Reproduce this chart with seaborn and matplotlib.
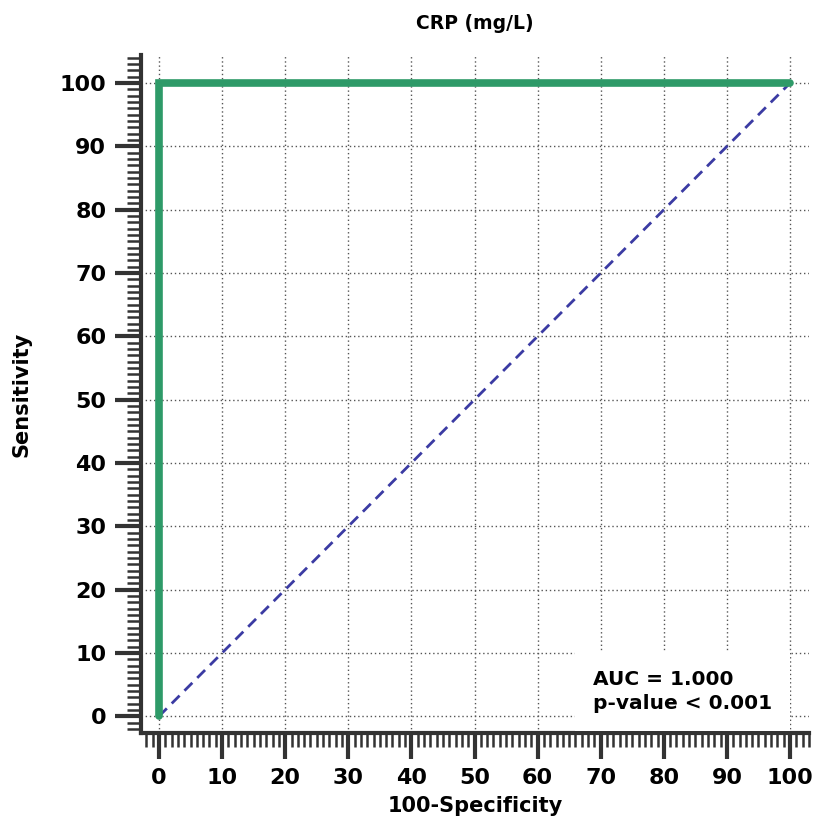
import numpy as np
import pandas as pd
import matplotlib.pyplot as plt
import seaborn as sns
from matplotlib.ticker import MultipleLocator

# ROC curve points (100-Specificity, Sensitivity)
fpr = [0, 0, 100]
tpr = [0, 100, 100]
ref_x = [0, 100]
ref_y = [0, 100]
auc_text = "AUC = 1.000\np-value < 0.001"

sns.set_style("white")
plt.rcParams['font.family'] = ['DejaVu Sans']
plt.rcParams['font.weight'] = 'bold'
plt.rcParams['text.color'] = 'black'
plt.rcParams['axes.labelcolor'] = 'black'
plt.rcParams['xtick.color'] = 'black'
plt.rcParams['ytick.color'] = 'black'

fig = plt.figure(figsize=(8.15, 8.24), dpi=100)
ax = fig.add_axes([0.173, 0.11, 0.8196, 0.823])

roc = pd.DataFrame({"fpr": fpr, "tpr": tpr})
ref = pd.DataFrame({"x": ref_x, "y": ref_y})

sns.lineplot(data=ref, x="x", y="y", ax=ax, color="#3b3ba3", lw=2,
             linestyle=(0, (4, 2.5)), sort=False, estimator=None, zorder=3)
sns.lineplot(data=roc, x="fpr", y="tpr", ax=ax, color="#2e9a68", lw=5.5,
             sort=False, estimator=None, zorder=4, solid_joinstyle='miter')

ax.set_xlim(-2.85, 103)
ax.set_ylim(-2.7, 104.4)

ax.xaxis.set_major_locator(MultipleLocator(10))
ax.xaxis.set_minor_locator(MultipleLocator(1))
ax.yaxis.set_major_locator(MultipleLocator(10))
ax.yaxis.set_minor_locator(MultipleLocator(1))

ax.grid(True, which='major', linestyle=(0, (1, 2)), color='#555555', lw=1)

for s in ['top', 'right']:
    ax.spines[s].set_visible(False)
for s in ['left', 'bottom']:
    ax.spines[s].set_linewidth(3)
    ax.spines[s].set_color('#333333')

ax.tick_params(which='major', direction='out', length=19, width=3, color='#333333',
               labelsize=16, pad=6, labelcolor='black')
ax.tick_params(which='minor', direction='out', length=10, width=1.8, color='#333333')
ax.tick_params(axis='both', which='both', left=True, bottom=True)
for lab in ax.get_xticklabels() + ax.get_yticklabels():
    lab.set_fontweight('bold')

ax.set_xlabel("100-Specificity", fontsize=15, fontweight='bold', labelpad=6)
ax.set_ylabel("Sensitivity", fontsize=15, fontweight='bold', labelpad=20)
ax.set_title("CRP (mg/L)", fontsize=13.5, fontweight='bold', pad=19)

ax.text(68.8, 3.95, auc_text, fontsize=14.5, fontweight='bold', linespacing=1.3,
        va='center', ha='left', zorder=5,
        bbox=dict(boxstyle='square,pad=0.9', facecolor='white', edgecolor='none'))

fig.savefig("out.png", dpi=100)
